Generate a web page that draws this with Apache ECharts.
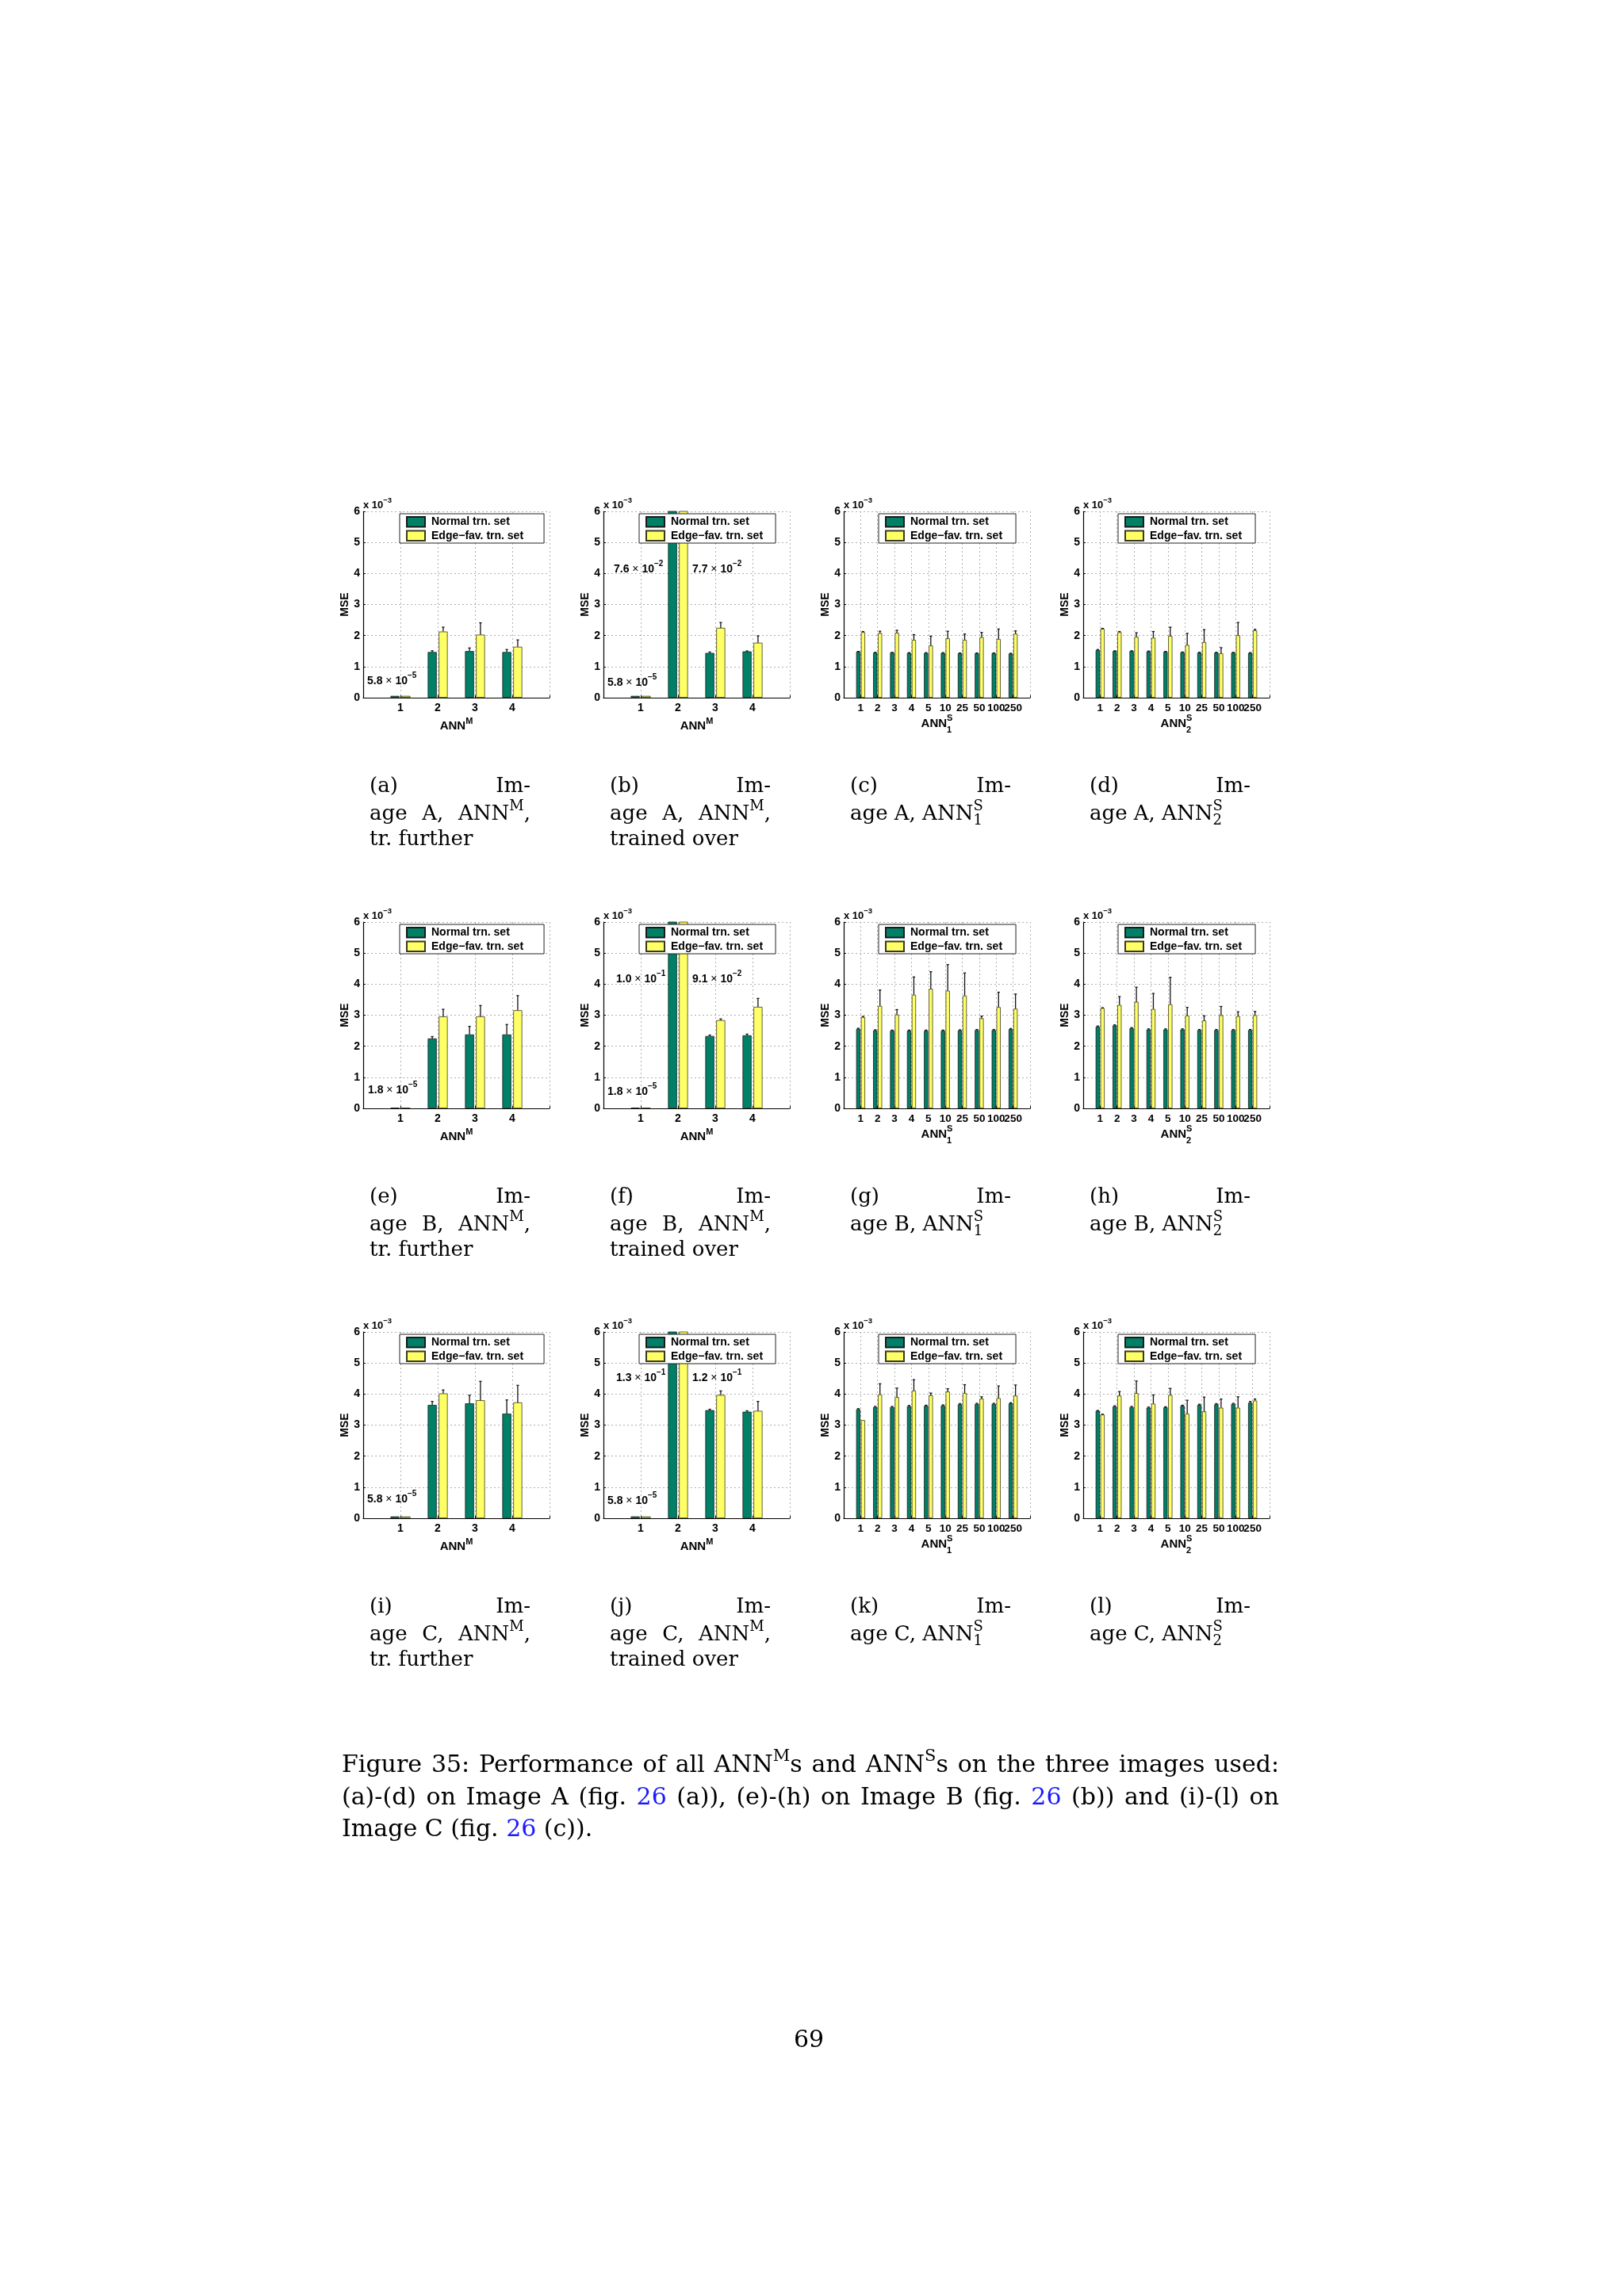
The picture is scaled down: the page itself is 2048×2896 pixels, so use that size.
<!DOCTYPE html>
<html><head><meta charset="utf-8">
<script src="https://cdn.jsdelivr.net/npm/echarts@6/dist/echarts.min.js"></script>
<style>html,body{margin:0;padding:0;background:#fff}#c{width:2048px;height:2896px}</style>
</head><body><div id="c"></div>
<script>
// ---------------- data (MSE in units of 1e-3) ----------------
const ticksM = ['1','2','3','4'];
const ticksS = ['1','2','3','4','5','10','25','50','100','250'];
const NAME_N = 'Normal trn. set';
const NAME_E = 'Edge\u2212fav. trn. set';

// (a) Image A, ANN^M, tr. further
const aNormal = [0.058, 1.47, 1.50, 1.47];
const aNormalErr = [0, 0.04, 0.10, 0.08];
const aEdge = [0.058, 2.13, 2.03, 1.64];
const aEdgeErr = [0, 0.14, 0.38, 0.22];
// (b) Image A, ANN^M, trained over
const bNormal = [0.058, 76, 1.44, 1.49];
const bNormalErr = [0, 0, 0.03, 0.015];
const bEdge = [0.058, 77, 2.25, 1.77];
const bEdgeErr = [0, 0, 0.17, 0.22];
// (c) Image A, ANN^S_1
const cNormal = [1.48, 1.45, 1.45, 1.44, 1.44, 1.44, 1.43, 1.43, 1.43, 1.42];
const cNormalErr = [0.01, 0.01, 0.01, 0.01, 0.01, 0.01, 0.01, 0.01, 0.01, 0.01];
const cEdge = [2.11, 2.08, 2.09, 1.86, 1.68, 1.91, 1.86, 1.95, 1.89, 2.06];
const cEdgeErr = [0.02, 0.06, 0.08, 0.17, 0.30, 0.23, 0.19, 0.15, 0.32, 0.09];
// (d) Image A, ANN^S_2
const dNormal = [1.53, 1.50, 1.50, 1.49, 1.48, 1.46, 1.45, 1.45, 1.45, 1.44];
const dNormalErr = [0.02, 0.01, 0.01, 0.01, 0.01, 0.01, 0.01, 0.01, 0.01, 0.01];
const dEdge = [2.22, 2.11, 1.96, 1.93, 1.99, 1.70, 1.79, 1.43, 2.01, 2.17];
const dEdgeErr = [0.01, 0.02, 0.13, 0.20, 0.28, 0.37, 0.40, 0.18, 0.41, 0.03];
// (e) Image B, ANN^M, tr. further
const eNormal = [0.018, 2.25, 2.38, 2.38];
const eNormalErr = [0, 0.06, 0.26, 0.32];
const eEdge = [0.018, 2.96, 2.96, 3.16];
const eEdgeErr = [0, 0.23, 0.35, 0.47];
// (f) Image B, ANN^M, trained over
const fNormal = [0.018, 100, 2.33, 2.35];
const fNormalErr = [0, 0, 0.03, 0.04];
const fEdge = [0.018, 91, 2.84, 3.27];
const fEdgeErr = [0, 0, 0.04, 0.27];
// (g) Image B, ANN^S_1
const gNormal = [2.56, 2.51, 2.50, 2.50, 2.50, 2.50, 2.51, 2.52, 2.52, 2.55];
const gNormalErr = [0.02, 0.02, 0.02, 0.02, 0.02, 0.02, 0.02, 0.02, 0.02, 0.02];
const gEdge = [2.94, 3.30, 3.02, 3.66, 3.85, 3.79, 3.63, 2.90, 3.26, 3.21];
const gEdgeErr = [0.02, 0.51, 0.16, 0.57, 0.55, 0.84, 0.73, 0.07, 0.48, 0.47];
// (h) Image B, ANN^S_2
const hNormal = [2.63, 2.67, 2.58, 2.54, 2.54, 2.54, 2.52, 2.52, 2.52, 2.52];
const hNormalErr = [0.02, 0.02, 0.02, 0.02, 0.02, 0.02, 0.02, 0.02, 0.02, 0.02];
const hEdge = [3.23, 3.33, 3.43, 3.20, 3.35, 2.99, 2.83, 3.00, 2.97, 3.00];
const hEdgeErr = [0.01, 0.27, 0.47, 0.50, 0.87, 0.26, 0.15, 0.28, 0.14, 0.12];
// (i) Image C, ANN^M, tr. further
const iNormal = [0.058, 3.65, 3.70, 3.37];
const iNormalErr = [0, 0.11, 0.26, 0.44];
const iEdge = [0.058, 4.02, 3.80, 3.73];
const iEdgeErr = [0, 0.11, 0.61, 0.55];
// (j) Image C, ANN^M, trained over
const jNormal = [0.058, 130, 3.48, 3.43];
const jNormalErr = [0, 0, 0.03, 0.03];
const jEdge = [0.058, 120, 3.97, 3.46];
const jEdgeErr = [0, 0, 0.13, 0.30];
// (k) Image C, ANN^S_1
const kNormal = [3.51, 3.58, 3.58, 3.61, 3.62, 3.63, 3.67, 3.68, 3.68, 3.70];
const kNormalErr = [0.02, 0.02, 0.02, 0.02, 0.02, 0.02, 0.02, 0.02, 0.02, 0.02];
const kEdge = [3.16, 3.99, 3.90, 4.11, 3.96, 4.08, 4.03, 3.85, 3.87, 3.95];
const kEdgeErr = [0, 0.34, 0.29, 0.35, 0.07, 0.09, 0.27, 0.06, 0.39, 0.34];
// (l) Image C, ANN^S_2
const lNormal = [3.46, 3.60, 3.58, 3.56, 3.57, 3.62, 3.65, 3.67, 3.68, 3.72];
const lNormalErr = [0.01, 0.02, 0.02, 0.02, 0.02, 0.02, 0.02, 0.02, 0.02, 0.04];
const lEdge = [3.34, 3.95, 4.03, 3.69, 3.97, 3.37, 3.44, 3.56, 3.56, 3.79];
const lEdgeErr = [0.01, 0.13, 0.39, 0.28, 0.21, 0.43, 0.46, 0.28, 0.35, 0.05];

const yTicks = [0, 1, 2, 3, 4, 5, 6];
const imageNames = ['A', 'B', 'C'];
const panelLetters = ['a','b','c','d','e','f','g','h','i','j','k','l'];

// ---------------- layout / style ----------------
const FS = '"Liberation Sans", Arial, Helvetica, sans-serif';
const FSERIF = '"DejaVu Serif", serif';
const GREEN = '#008066', YELLOW = '#ffff66';
const colLeft = [458, 761, 1064, 1366], rowTop = [645, 1163, 1680], PW = 235, PH = 235;

const panels = [
  {n:aNormal, ne:aNormalErr, e:aEdge, ee:aEdgeErr, ticks:ticksM},
  {n:bNormal, ne:bNormalErr, e:bEdge, ee:bEdgeErr, ticks:ticksM},
  {n:cNormal, ne:cNormalErr, e:cEdge, ee:cEdgeErr, ticks:ticksS, sub:'1'},
  {n:dNormal, ne:dNormalErr, e:dEdge, ee:dEdgeErr, ticks:ticksS, sub:'2'},
  {n:eNormal, ne:eNormalErr, e:eEdge, ee:eEdgeErr, ticks:ticksM},
  {n:fNormal, ne:fNormalErr, e:fEdge, ee:fEdgeErr, ticks:ticksM},
  {n:gNormal, ne:gNormalErr, e:gEdge, ee:gEdgeErr, ticks:ticksS, sub:'1'},
  {n:hNormal, ne:hNormalErr, e:hEdge, ee:hEdgeErr, ticks:ticksS, sub:'2'},
  {n:iNormal, ne:iNormalErr, e:iEdge, ee:iEdgeErr, ticks:ticksM},
  {n:jNormal, ne:jNormalErr, e:jEdge, ee:jEdgeErr, ticks:ticksM},
  {n:kNormal, ne:kNormalErr, e:kEdge, ee:kEdgeErr, ticks:ticksS, sub:'1'},
  {n:lNormal, ne:lNormalErr, e:lEdge, ee:lEdgeErr, ticks:ticksS, sub:'2'}
];

// ---------------- text helpers ----------------
const mctx = document.createElement('canvas').getContext('2d');
function segW(s){
  mctx.font = (s.weight||'normal') + ' ' + s.size + 'px ' + s.family;
  return mctx.measureText(s.t).width;
}
function runs(segs, x, y, align){
  let cur = 0, prevX = 0, prevW = 0; const pos = [];
  segs.forEach(s => {
    const w = segW(s);
    if (s.stack){ pos.push(prevX); prevW = Math.max(prevW, w); cur = prevX + prevW; }
    else { pos.push(cur); prevX = cur; prevW = w; cur += w; }
  });
  const x0 = align === 'center' ? x - cur/2 : align === 'right' ? x - cur : x;
  return segs.map((s,i) => ({
    type:'text', silent:true, x: x0 + pos[i], y: y + (s.dy||0), z: 20,
    style:{text:s.t, fontSize:s.size, fontFamily:s.family, fontWeight:s.weight||'normal',
      fill:s.color||'#000', textAlign:'left', textVerticalAlign:'middle', align:'left', verticalAlign:'middle'}
  }));
}
function wordW(word){ let w=0, pw=0; word.forEach(s=>{const ww=segW(s); if(s.stack){w+=Math.max(0,ww-pw);} else {w+=ww; pw=ww;}}); return w; }
function justify(words, x0, x1, y){
  const ws = words.map(wordW);
  const tot = ws.reduce((a,b)=>a+b,0);
  const gap = words.length>1 ? (x1-x0-tot)/(words.length-1) : 0;
  let x = x0; let out = [];
  words.forEach((w,i)=>{ out = out.concat(runs(w, x, y, 'left')); x += ws[i] + gap; });
  return out;
}
function sci(vMilli){
  const v = vMilli * 1e-3;
  let ex = Math.floor(Math.log10(v) + 1e-9);
  let m = Math.round(v / Math.pow(10, ex) * 10) / 10;
  if (m >= 10){ m /= 10; ex++; }
  return [m.toFixed(1), '\u2212' + Math.abs(ex)];
}
function noteSegs(vMilli){
  const [m, ex] = sci(vMilli);
  return [
    {t:m, size:14, weight:'bold', family:FS},
    {t:' \u00d7 ', size:14, family:FS},
    {t:'10', size:14, weight:'bold', family:FS},
    {t:ex, size:10, weight:'bold', family:FS, dy:-7}
  ];
}

// ---------------- build option ----------------
const grids = [], xAxes = [], yAxes = [], series = [], legends = [];
let gfx = [];
const dotted = {color:'#b0b0b0', width:1, type:[2,3]};

function errRenderer(off){
  return function(params, api){
    const x = api.value(0), v = api.value(1), e = api.value(2), side = api.value(3);
    if (!(e > 0)) return null;
    const p0 = api.coord([x, v]), p1 = api.coord([x, v + e]);
    const cx = p0[0] + side * off;
    const st = {stroke:'#111', lineWidth:1.3};
    return {type:'group', children:[
      {type:'line', shape:{x1:cx, y1:p0[1], x2:cx, y2:p1[1]}, style:st},
      {type:'line', shape:{x1:cx-1.6, y1:p1[1], x2:cx+1.6, y2:p1[1]}, style:st}
    ]};
  };
}

panels.forEach((p, g) => {
  const r = Math.floor(g/4), c = g % 4;
  const many = p.ticks.length > 4;
  const L = colLeft[c], T = rowTop[r];
  grids.push({left:L, top:T, width:PW, height:PH});
  xAxes.push({
    type:'category', gridIndex:g, data:[''].concat(p.ticks, ['']), boundaryGap:false,
    axisLine:{show:true, lineStyle:{color:'#000', width:1.2}},
    axisTick:{show:true, inside:true, length:3, interval:0, lineStyle:{color:'#000'}},
    axisLabel:{interval:0, fontSize: many ? 13.5 : 14, fontWeight:'bold', color:'#000', fontFamily:FS, margin:6},
    splitLine:{show:true, interval:0, lineStyle:dotted}
  });
  yAxes.push({
    type:'value', gridIndex:g, min:yTicks[0], max:yTicks[yTicks.length-1], interval:1,
    axisLine:{show:true, lineStyle:{color:'#000', width:1.2}},
    axisTick:{show:true, inside:true, length:3, lineStyle:{color:'#000'}},
    axisLabel:{fontSize:14, fontWeight:'bold', color:'#000', fontFamily:FS, margin:4},
    splitLine:{show:true, lineStyle:dotted},
    name:'MSE', nameLocation:'middle', nameGap:12,
    nameTextStyle:{fontSize:14, fontWeight:'bold', color:'#000', fontFamily:FS}
  });
  const bw = many ? 5.3 : 11.3, gapPx = many ? 0.7 : 2.5;
  const common = {type:'bar', xAxisIndex:g, yAxisIndex:g, barWidth:bw, barGap:(gapPx/bw*100).toFixed(1)+'%',
    clip:true, silent:true, z:2};
  series.push(Object.assign({}, common, {name:NAME_N, data:p.n.map((v,i)=>[i+1, v]),
    itemStyle:{color:GREEN, borderColor:'#1a1a1a', borderWidth:0.8}}));
  series.push(Object.assign({}, common, {name:NAME_E, data:p.e.map((v,i)=>[i+1, v]),
    itemStyle:{color:YELLOW, borderColor:'#3a3a1a', borderWidth:0.8}}));
  series.push({type:'custom', xAxisIndex:g, yAxisIndex:g, z:3, silent:true, clip:true,
    encode:{x:0, y:1},
    data: p.n.map((v,i)=>[i+1, v, p.ne[i], -1]).concat(p.e.map((v,i)=>[i+1, v, p.ee[i], 1])),
    renderItem: errRenderer((bw + gapPx)/2)});
  legends.push({
    left: L + [46,45,44,44][c], top: T + 3, orient:'vertical', data:[NAME_N, NAME_E], icon:'rect',
    itemWidth:23, itemHeight:12.5, itemGap:3, padding:[3, [26,16,17,17][c], 2, 8],
    borderColor:'#222', borderWidth:1, backgroundColor:'#fff', borderRadius:0, selectedMode:false, z:10,
    textStyle:{fontFamily:FS, fontSize:14, fontWeight:'bold', color:'#000', padding:[0,0,0,3]}
  });
  // "x 10^-3" exponent label
  gfx = gfx.concat(runs([{t:'x 10', size:13, weight:'bold', family:FS}, {t:'\u22123', size:9.5, weight:'bold', family:FS, dy:-6}], L, T - 8, 'left'));
  // x-axis name
  if (many){
    gfx = gfx.concat(runs([{t:'ANN', size:15, weight:'bold', family:FS},
      {t:'S', size:11, weight:'bold', family:FS, dy:-7},
      {t:p.sub, size:11, weight:'bold', family:FS, dy:8, stack:true}], L + PW/2, T + PH + 33, 'center'));
  } else {
    gfx = gfx.concat(runs([{t:'ANN', size:15, weight:'bold', family:FS},
      {t:'M', size:11, weight:'bold', family:FS, dy:-6}], L + PW/2, T + PH + 36, 'center'));
  }
});

// value annotations (derived from the data)
const notes = [
  [0, aNormal[0], 5, 880-21-645],
  [1, bNormal[0], 5, 860-644], [1, bNormal[1], 13, 718-645], [1, bEdge[1], 112, 718-645],
  [4, eNormal[0], 6, 1375-1163],
  [5, fNormal[0], 5, 1377-1163], [5, fNormal[1], 16, 1235-1163], [5, fEdge[1], 112, 1235-1163],
  [8, iNormal[0], 5, 1891-1680],
  [9, jNormal[0], 5, 1893-1680], [9, jNormal[1], 16, 1738-1680], [9, jEdge[1], 112, 1738-1680]
];
notes.forEach(([g, v, dx, dy]) => {
  const r = Math.floor(g/4), c = g % 4;
  gfx = gfx.concat(runs(noteSegs(v), colLeft[c] + dx, rowTop[r] + dy, 'left'));
});

// sub-captions
const CAP = 26, CSUP = 18;
function cs(t, o){ return Object.assign({t:t, size:CAP, family:FSERIF}, o||{}); }
for (let r = 0; r < 3; r++){
  for (let c = 0; c < 4; c++){
    const x0 = colLeft[c] + 8, x1 = colLeft[c] + 211, y0 = rowTop[r] + 347;
    const letter = panelLetters[r*4 + c], img = imageNames[r];
    gfx = gfx.concat(justify([[cs('(' + letter + ')')], [cs('Im-')]], x0, x1, y0));
    if (c < 2){
      gfx = gfx.concat(justify([[cs('age')], [cs(img + ',')], [cs('ANN'), cs('M', {size:CSUP, dy:-10}), cs(',')]], x0, x1, y0 + 35));
      gfx = gfx.concat(runs([cs(c === 0 ? 'tr. further' : 'trained over')], x0, y0 + 67, 'left'));
    } else {
      gfx = gfx.concat(runs([cs('age ' + img + ', ANN'), cs('S', {size:CSUP, dy:-10}),
        cs(c === 2 ? '1' : '2', {size:CSUP, dy:8, stack:true})], x0, y0 + 35, 'left'));
    }
  }
}

// figure caption
const MC = 30, MSUP = 21, BLUE = '#1a1aff';
function ms(t, o){ return Object.assign({t:t, size:MC, family:FSERIF}, o||{}); }
const line1 = [[ms('Figure')],[ms('35:')],[ms('Performance')],[ms('of')],[ms('all')],
  [ms('ANN'), ms('M',{size:MSUP, dy:-11}), ms('s')],[ms('and')],
  [ms('ANN'), ms('S',{size:MSUP, dy:-11}), ms('s')],[ms('on')],[ms('the')],[ms('three')],[ms('images')],[ms('used:')]];
const line2 = [[ms('(a)-(d)')],[ms('on')],[ms('Image')],[ms('A')],[ms('(fig.')],[ms('26',{color:BLUE})],[ms('(a)),')],
  [ms('(e)-(h)')],[ms('on')],[ms('Image')],[ms('B')],[ms('(fig.')],[ms('26',{color:BLUE})],[ms('(b))')],
  [ms('and')],[ms('(i)-(l)')],[ms('on')]];
gfx = gfx.concat(justify(line1, 431, 1613, 2227));
gfx = gfx.concat(justify(line2, 431, 1613, 2268));
gfx = gfx.concat(runs([ms('Image C (fig. '), ms('26',{color:BLUE}), ms(' (c)).')], 431, 2308, 'left'));
// page number
gfx = gfx.concat(runs([ms('69')], 1020, 2574, 'center'));

const chart = echarts.init(document.getElementById('c'), null, {renderer:'canvas'});
chart.setOption({
  animation:false,
  backgroundColor:'#ffffff',
  textStyle:{fontFamily:FS},
  grid:grids, xAxis:xAxes, yAxis:yAxes, legend:legends, series:series,
  graphic:{elements:gfx}
});
</script>
</body></html>
